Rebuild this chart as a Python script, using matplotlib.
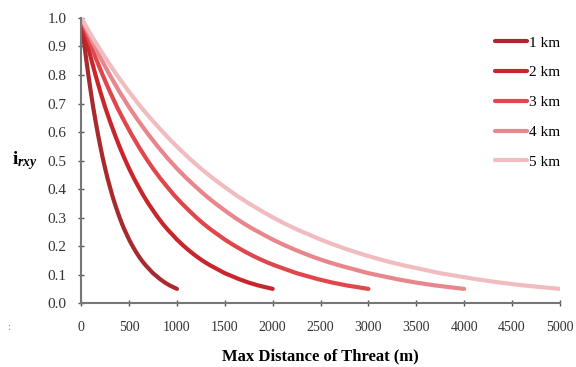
import numpy as np
import matplotlib
matplotlib.use('Agg')
import matplotlib.pyplot as plt

plt.rcParams['font.family'] = ['Liberation Serif', 'DejaVu Serif']
plt.rcParams['mathtext.fontset'] = 'custom'
plt.rcParams['mathtext.rm'] = 'Liberation Serif'
plt.rcParams['mathtext.it'] = 'Liberation Serif:italic'
plt.rcParams['mathtext.bf'] = 'Liberation Serif:bold'
plt.rcParams['mathtext.bfit'] = 'Liberation Serif:bold:italic'

# max distance of threat, sampled along each curve (m)
dist_1km = list(range(0, 1001, 25))
dist_2km = list(range(0, 2001, 50))
dist_3km = list(range(0, 3001, 75))
dist_4km = list(range(0, 4001, 100))
dist_5km = list(range(0, 5001, 125))

# irxy (all five curves share the same shape,
# just stretched out to their own max distance)
irxy = [1.000, 0.928, 0.861, 0.799, 0.741, 0.687, 0.638, 0.592, 0.549, 0.509,
        0.472, 0.438, 0.407, 0.377, 0.350, 0.325, 0.301, 0.279, 0.259, 0.241,
        0.223, 0.207, 0.192, 0.178, 0.165, 0.153, 0.142, 0.132, 0.123, 0.114,
        0.105, 0.098, 0.091, 0.084, 0.078, 0.072, 0.067, 0.062, 0.058, 0.054,
        0.050]

labels = ['1 km', '2 km', '3 km', '4 km', '5 km']
colors = ['#a8292e', '#c9262c', '#e0474c', '#e8868c', '#f1bcc0']

fig = plt.figure(figsize=(5.76, 3.67), dpi=100)
ax = fig.add_axes([0.141, 0.174, 0.831, 0.777])

dists = [dist_1km, dist_2km, dist_3km, dist_4km, dist_5km]
for x, lab, c in zip(dists, labels, colors):
    ax.plot(x, irxy, color=c, lw=3, label=lab, solid_capstyle='round')

ax.set_xlim(0, 5000)
ax.set_ylim(0, 1.0)
ax.set_xticks(np.arange(0, 5001, 500))
ax.set_yticks(np.arange(0, 1.01, 0.1))
ax.set_yticklabels(['%.1f' % v for v in np.arange(0, 1.01, 0.1)])
ax.tick_params(direction='inout', length=5, width=1, color='#555555',
               labelsize=10, labelcolor='#333333')
ax.tick_params(axis='x', pad=10)
ax.tick_params(axis='y', pad=8, labelsize=11)
for s in ['top', 'right']:
    ax.spines[s].set_visible(False)
for s in ['left', 'bottom']:
    ax.spines[s].set_color('#777777')
    ax.spines[s].set_linewidth(1.5)

ax.set_xlabel('Max Distance of Threat (m)', fontsize=12, fontweight='bold', labelpad=11)
ax.set_ylabel(r'$\mathbf{i}_{\boldsymbol{rxy}}$', fontsize=14, rotation=0, va='center')
ax.yaxis.set_label_coords(-0.117, 0.5)

leg = ax.legend(loc='upper right', bbox_to_anchor=(1.03, 0.985), frameon=False,
                fontsize=11, handlelength=2.1, handletextpad=0.15, labelspacing=1.05)

fig.text(0.012, 0.1, ':', fontsize=8, color='#888888')

fig.savefig('out.png', dpi=100)
